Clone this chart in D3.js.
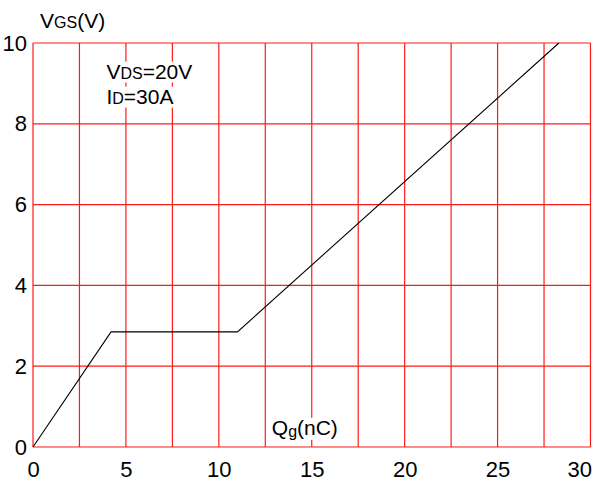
<!DOCTYPE html>
<html>
<head>
<meta charset="utf-8">
<script src="https://cdn.jsdelivr.net/npm/d3@7"></script>
<style>
  body { margin: 0; background: #fff; }
  text { font-family: "Liberation Sans", Arial, sans-serif; fill: #000; }
</style>
</head>
<body>
<div id="chart"></div>
<script>
// Gate charge curve data
const qg = [0, 4.2, 11, 28.3];
const vgs = [0, 2.85, 2.85, 10];
const xTicks = [0, 5, 10, 15, 20, 25, 30];
const xGrid = [0, 2.5, 5, 7.5, 10, 12.5, 15, 17.5, 20, 22.5, 25, 27.5, 30];
const yTicks = [0, 2, 4, 6, 8, 10];

const W = 603, H = 482;
const margin = {top: 43, right: 12.5, bottom: 35, left: 33};
const width = W - margin.left - margin.right;
const height = H - margin.top - margin.bottom;

const svg = d3.select("#chart").append("svg")
    .attr("width", W)
    .attr("height", H);

const g = svg.append("g")
    .attr("transform", `translate(${margin.left},${margin.top})`);

const x = d3.scaleLinear().domain([0, 30]).range([0, width]);
const y = d3.scaleLinear().domain([0, 10]).range([height, 0]);

// red grid
g.selectAll(".vgrid")
    .data(xGrid)
    .enter().append("line")
    .attr("x1", d => x(d)).attr("x2", d => x(d))
    .attr("y1", 0).attr("y2", height)
    .attr("stroke", "#ff1a1a")
    .attr("stroke-width", 1.2);

g.selectAll(".hgrid")
    .data(yTicks)
    .enter().append("line")
    .attr("x1", 0).attr("x2", width)
    .attr("y1", d => y(d)).attr("y2", d => y(d))
    .attr("stroke", "#ff1a1a")
    .attr("stroke-width", 1.2);

// labels with white boxes over the grid
function boxedLabel(parts, px, py) {
  const t = g.append("text")
      .attr("x", px).attr("y", py)
      .style("font-size", "21px");
  parts.forEach(p => {
    t.append("tspan")
      .style("font-size", p[1] ? "16px" : "21px")
      .attr("dy", p[2] || 0)
      .text(p[0]);
  });
  return t;
}

const labels = [];
labels.push(boxedLabel([["V"], ["DS", true], ["=20V"]], x(3.95), y(9.12)));
labels.push(boxedLabel([["I"], ["D", true], ["=30A"]], x(3.95), y(8.5)));
labels.push(boxedLabel([["Q"], ["g", true, 2], ["(nC)", false, -2]], x(12.85), y(0.3)));

labels.forEach(t => {
  const b = t.node().getBBox();
  g.insert("rect", "text")
    .attr("x", b.x - 1).attr("y", b.y + 2)
    .attr("width", b.width + 2).attr("height", b.height - 2)
    .attr("fill", "#fff");
});

// curve
g.append("path")
    .datum(qg.map((d, i) => [d, vgs[i]]))
    .attr("fill", "none")
    .attr("stroke", "#000")
    .attr("stroke-width", 1.1)
    .attr("d", d3.line().x(d => x(d[0])).y(d => y(d[1])));

// axes (labels only)
const xAxis = g.append("g")
    .attr("transform", `translate(0,${height})`)
    .call(d3.axisBottom(x).tickValues(xTicks).tickSize(0).tickPadding(14));
xAxis.select(".domain").remove();
xAxis.selectAll("text")
    .style("font-size", "22px")
    .style("font-family", "Liberation Sans, Arial, sans-serif")
    .attr("fill", "#000")
    .filter(d => d === 30)
    .attr("text-anchor", "end")
    .attr("x", 1);

const yAxis = g.append("g")
    .call(d3.axisLeft(y).tickValues(yTicks).tickSize(0).tickPadding(6));
yAxis.select(".domain").remove();
yAxis.selectAll("text")
    .style("font-size", "22px")
    .style("font-family", "Liberation Sans, Arial, sans-serif")
    .attr("fill", "#000");

// y axis title
const yt = svg.append("text")
    .attr("x", 40).attr("y", 28)
    .style("font-size", "21px");
yt.append("tspan").text("V");
yt.append("tspan").style("font-size", "16px").text("GS");
yt.append("tspan").text("(V)");
</script>
</body>
</html>
